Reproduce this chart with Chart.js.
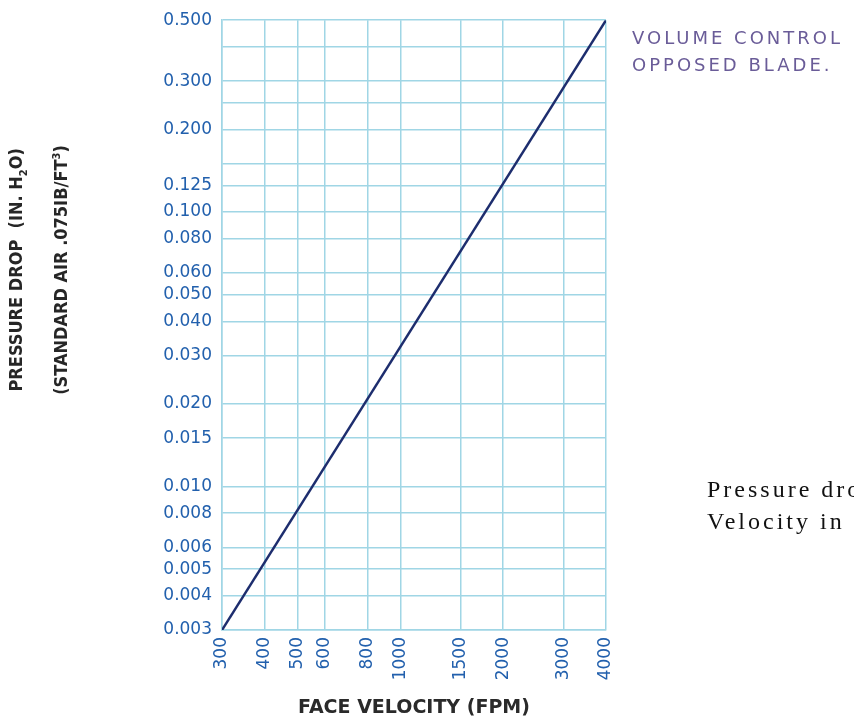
<!DOCTYPE html>
<html>
<head>
<meta charset="utf-8">
<script src="https://cdn.jsdelivr.net/npm/chart.js@4/dist/chart.umd.min.js"></script>
<style>
    html, body { margin: 0; padding: 0; background: #fff; overflow: hidden; }
    #wrap { position: relative; width: 854px; height: 728px; }
    .ytitle {
        position: absolute; width: 320px; text-align: center; white-space: nowrap;
        font-family: "Liberation Sans Narrow", "DejaVu Sans Condensed", "Liberation Sans", sans-serif;
        font-weight: bold; font-size: 18px; color: #262626; line-height: 20px;
        transform: rotate(-90deg);
    }
    .note { position: absolute; white-space: nowrap; }
    .purple {
        font-family: "DejaVu Sans", sans-serif; font-size: 18px; color: #6a5c98;
        letter-spacing: 3px; line-height: 27px; left: 632px; top: 24px;
    }
    .serif {
        font-family: "Liberation Serif", "DejaVu Serif", serif; font-size: 24px; color: #111;
        letter-spacing: 3px; line-height: 32px; left: 707px; top: 473px;
    }
</style>
</head>
<body>
<div id="wrap">
    <canvas id="chart" width="854" height="728"></canvas>
    <div class="ytitle" style="left:-140px; top:256px;">PRESSURE DROP&nbsp; (IN. H<sub style="font-size:11px">2</sub>O)</div>
    <div class="ytitle" style="left:-101px; top:258px;">(STANDARD AIR .075IB/FT<sup style="font-size:11px">3</sup>)</div>
    <div class="note purple">VOLUME CONTROL<br>OPPOSED BLADE.</div>
    <div class="note serif">Pressure drop<br>Velocity in</div>
</div>
<script>
// ===== 数据 =====
const xTicks = [300, 400, 500, 600, 800, 1000, 1500, 2000, 3000, 4000];
const yTicks = [0.003, 0.004, 0.005, 0.006, 0.008, 0.010, 0.015, 0.020, 0.030, 0.040, 0.050,
    0.060, 0.080, 0.100, 0.125, 0.150, 0.200, 0.250, 0.300, 0.400, 0.500];
const yLabelled = [0.003, 0.004, 0.005, 0.006, 0.008, 0.010, 0.015, 0.020, 0.030, 0.040, 0.050,
    0.060, 0.080, 0.100, 0.125, 0.200, 0.300, 0.500];
const velocity = [300, 4000];
const pressureDrop = [0.003, 0.500];

const gridColor = '#a0d6e5';
const tickColor = '#2260ad';
const tickFont = { family: 'DejaVu Sans', size: 17 };

new Chart(document.getElementById('chart'), {
    type: 'line',
    data: {
        datasets: [{
            data: velocity.map((v, i) => ({ x: v, y: pressureDrop[i] })),
            borderColor: '#1d2d6e',
            borderWidth: 2.5,
            pointRadius: 0,
            fill: false,
            tension: 0
        }]
    },
    options: {
        responsive: false,
        animation: false,
        layout: { padding: { left: 142, right: 248, top: 20, bottom: 4 } },
        plugins: { legend: { display: false }, tooltip: { enabled: false } },
        scales: {
            x: {
                type: 'logarithmic',
                min: 300,
                max: 4000,
                afterBuildTicks: s => { s.ticks = xTicks.map(v => ({ value: v })); },
                afterFit: s => { s.height = 94; },
                grid: { color: gridColor, lineWidth: 1.5, drawTicks: false },
                border: { color: gridColor, width: 1.5 },
                ticks: {
                    autoSkip: false, minRotation: 90, maxRotation: 90, padding: 7,
                    color: tickColor, font: tickFont,
                    callback: v => String(v)
                },
                title: {
                    display: true, text: 'FACE VELOCITY (FPM)', color: '#2a2a2a',
                    font: { family: 'DejaVu Sans', size: 19, weight: 'bold' },
                    padding: { top: 0, bottom: 5 }
                }
            },
            y: {
                type: 'logarithmic',
                min: 0.003,
                max: 0.5,
                afterBuildTicks: s => { s.ticks = yTicks.map(v => ({ value: v })); },
                afterFit: s => { s.width = 80; },
                grid: { color: gridColor, lineWidth: 1.5, drawTicks: false },
                border: { color: gridColor, width: 1.5 },
                ticks: {
                    autoSkip: false, padding: 10,
                    color: tickColor, font: tickFont,
                    callback: v => yLabelled.includes(v) ? v.toFixed(3) : ''
                }
            }
        }
    }
});
</script>
</body>
</html>
